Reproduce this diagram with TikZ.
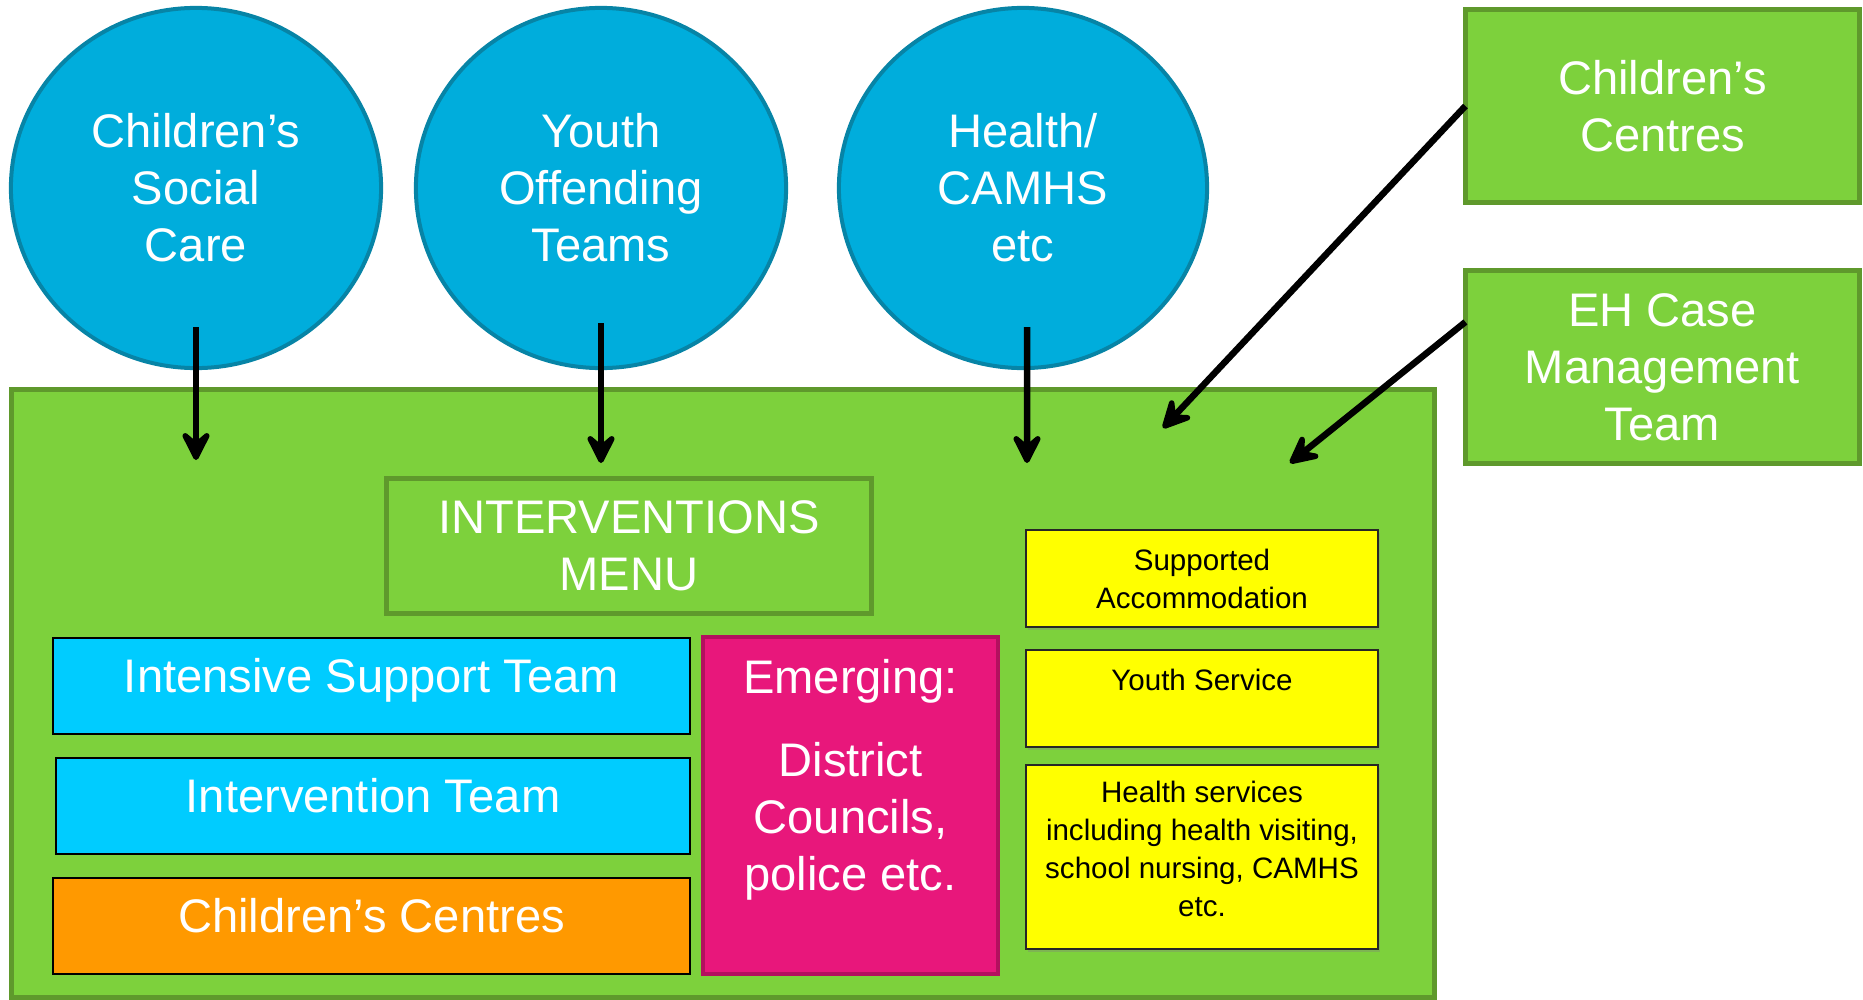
\documentclass[tikz,border=0pt]{standalone}
\usepackage{fontspec}
\setmainfont{Liberation Sans}
\usepackage{tikz}
\usetikzlibrary{positioning}
\usetikzlibrary{shapes.geometric}
\usetikzlibrary{arrows.meta}
\usetikzlibrary{shadows}

\definecolor{circblue}{HTML}{00ADDC}
\definecolor{circedge}{HTML}{0784A6}
\definecolor{areagreen}{HTML}{7DD13C}
\definecolor{greenedge}{HTML}{5F992C}
\definecolor{teamblue}{HTML}{00CCFF}
\definecolor{ccorange}{HTML}{FF9900}
\definecolor{emergpink}{HTML}{E8177B}
\definecolor{pinkedge}{HTML}{B3105E}
\definecolor{noteyellow}{HTML}{FFFF00}

\newcommand{\menufont}{\fontsize{13.4}{16.2}\selectfont}
\newcommand{\notefont}{\fontsize{8.4}{10.8}\selectfont}

\begin{document}
\begin{tikzpicture}[x=0.01cm, y=-0.01cm,
  agency/.style={ellipse, draw=circedge, fill=circblue, line width=0.04cm,
    text=white, align=center, font=\menufont, inner sep=0pt},
  greenbox/.style={rectangle, draw=greenedge, fill=areagreen, line width=0.05cm,
    text=white, align=center, font=\menufont},
  teambox/.style={rectangle, draw=black, line width=0.02cm, text=white,
    font=\menufont, text height=0.75em, text depth=0.375em},
  notebox/.style={rectangle, draw=black!85, fill=noteyellow, line width=0.02cm,
    align=center, font=\notefont,
    drop shadow={shadow xshift=0.02cm, shadow yshift=-0.03cm, opacity=0.35}},
  link/.style={line width=0.065cm,
    -{Stealth[length=0.38cm, width=0.38cm, inset=0.16cm, round]}}]

\useasboundingbox (0,0) rectangle (1863,1000);

% main area
\node[greenbox, minimum width=14.22cm, minimum height=6.07cm] (area) at (723,693.5) {};

% agencies on top
\node[agency, minimum width=3.70cm, minimum height=3.60cm] (csc) at (196,188)
  {Children’s\\Social\\Care};
\node[agency, minimum width=3.70cm, minimum height=3.60cm] (yot) at (601,188)
  {Youth\\Offending\\Teams};
\node[agency, minimum width=3.68cm, minimum height=3.60cm] (hlt) at (1023,188)
  {Health/\\CAMHS\\etc};

% boxes on the right
\node[greenbox, minimum width=3.93cm, minimum height=1.92cm] (cc) at (1662.5,106)
  {Children’s\\Centres};
\node[greenbox, minimum width=3.93cm, minimum height=1.92cm] (eh) at (1662.5,367)
  {EH Case\\Management\\Team};

% menu
\node[greenbox, minimum width=4.84cm, minimum height=1.34cm] (menu) at (629,546)
  {INTERVENTIONS\\MENU};

\node[teambox, fill=teamblue, minimum width=6.37cm, minimum height=0.96cm] (ist) at (371.5,686)
  {Intensive Support Team};
\node[teambox, fill=teamblue, minimum width=6.34cm, minimum height=0.96cm] (it) at (373,806)
  {Intervention Team};
\node[teambox, fill=ccorange, minimum width=6.37cm, minimum height=0.96cm] (ccs) at (371.5,926)
  {Children’s Centres};

\node[rectangle, draw=pinkedge, fill=emergpink, line width=0.04cm,
  minimum width=2.95cm, minimum height=3.37cm] (emerg) at (850.5,805.5) {};
\node[text=white, align=center, font=\menufont, inner sep=0pt,
  below=0.24cm of emerg.north] (emergtxt)
  {Emerging:\\[0.26cm]District\\Councils,\\police etc.};

% yellow notes
\node[notebox, minimum width=3.52cm, minimum height=0.97cm] (sa) at (1202,578.5)
  {Supported\\Accommodation};
\node[notebox, minimum width=3.52cm, minimum height=0.97cm] (ys) at (1202,698.5) {};
\node[font=\notefont, inner sep=0pt, below=0.19cm of ys.north] (ystxt) {Youth Service};
\node[notebox, minimum width=3.52cm, minimum height=1.84cm, text depth=0.16cm] (hs) at (1202,857)
  {Health services\\including health visiting,\\school nursing, CAMHS\\etc.};

% arrows
\coordinate (cscend) at (196,460);
\coordinate (yotend) at (601,463);
\coordinate (hltend) at (1027,463);
\coordinate (ccend) at (1163,428);
\coordinate (ehend) at (1290,463);

\draw[link] ([yshift=-1.39cm]csc.center) -- (cscend);
\draw[link] ([yshift=-1.35cm]yot.center) -- (yotend);
\draw[link] ([xshift=0.04cm,yshift=-1.39cm]hlt.center) -- (hltend);
\draw[link] ([xshift=0.02cm]cc.west) -- (ccend);
\draw[link] ([xshift=0.02cm,yshift=0.45cm]eh.west) -- (ehend);

\end{tikzpicture}
\end{document}
